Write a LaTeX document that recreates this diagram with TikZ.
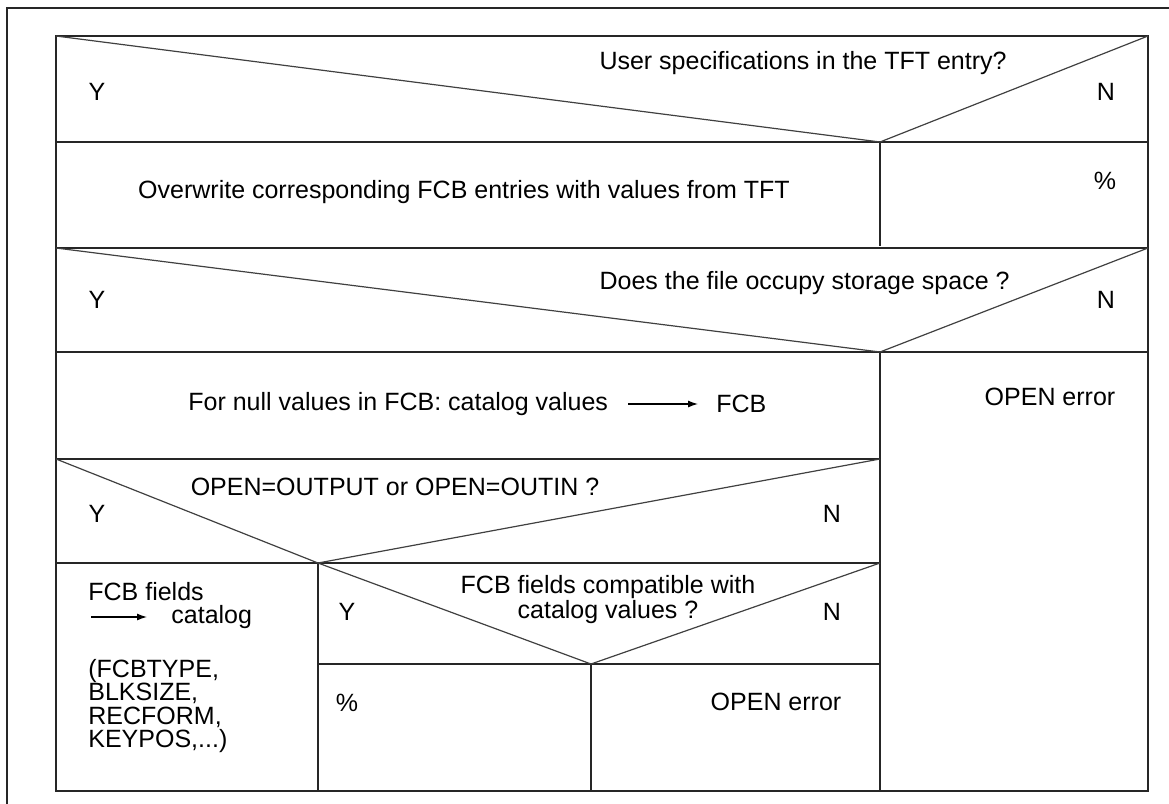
\documentclass[tikz,border=0pt]{standalone}
\usepackage{fontspec}
\setmainfont{Liberation Sans}
\usetikzlibrary{arrows.meta}
\tikzset{
    frame/.style={draw=black!85, line width=1.2pt},
    diag/.style={draw=black!75, line width=0.6pt},
    txt/.style={inner sep=0pt, font=\fontsize{12.5}{12.5}\selectfont},
    txtarrow/.style={-{Latex[length=5pt,width=3.5pt]}, line width=0.6pt}
}
\begin{document}
\begin{tikzpicture}[x=0.5pt,y=-0.5pt]
            \useasboundingbox (0,0) rectangle (1169,804);
            \draw[frame] (7,830) -- (7,8) -- (1190,8);
            \coordinate (tl) at (56,36);
            \coordinate (tr) at (1148,36);
            \coordinate (bl) at (56,791);
            \coordinate (br) at (1148,791);
            \coordinate (q1tip) at (880,142);
            \coordinate (q2tip) at (880,352);
            \coordinate (q3tip) at (318,563);
            \coordinate (q4tip) at (591,664);
            \draw[frame] (tl) rectangle (br);
            \draw[frame] (56,142) -- (1148,142);
            \draw[frame] (56,248) -- (1148,248);
            \draw[frame] (56,352) -- (1148,352);
            \draw[frame] (56,459) -- (880,459);
            \draw[frame] (56,563) -- (880,563);
            \draw[frame] (318,664) -- (880,664);
            \draw[frame] (q1tip) -- (880,246);
            \draw[frame] (q2tip) -- (880,791);
            \draw[frame] (q3tip) -- (318,791);
            \draw[frame] (q4tip) -- (591,791);
            \draw[diag] (tl) -- (q1tip) -- (tr);
            \draw[diag] (56,248) -- (q2tip) -- (1148,248);
            \draw[diag] (56,459) -- (q3tip) -- (880,459);
            \draw[diag] (q3tip) -- (q4tip) -- (880,563);
            \node[txt, anchor=east] (q1) at (1007,63) {User specifications in the TFT entry?};
            \node[txt] (q1y) at (97,92) {Y};
            \node[txt] (q1n) at (1106,92) {N};
            \node[txt] (overwrite) at (464,192) {Overwrite corresponding FCB entries with values from TFT};
            \node[txt] (pct1) at (1105,181) {\%};
            \node[txt, anchor=east] (q2) at (1010,283) {Does the file occupy storage space ?};
            \node[txt] (q2y) at (97,300) {Y};
            \node[txt] (q2n) at (1106,300) {N};
            \node[txt, anchor=west] (nullvals) at (188,404) {For null values in FCB: catalog values};
            \node[txt, anchor=west] (nullfcb) at (716,404) {FCB};
            \draw[txtarrow] ([xshift=10pt]nullvals.east) -- ([xshift=-9pt]nullfcb.west);
            \node[txt] (err1) at (1050,397) {OPEN error};
            \node[txt] (q3) at (395,487) {OPEN=OUTPUT or OPEN=OUTIN ?};
            \node[txt] (q3y) at (97,514) {Y};
            \node[txt] (q3n) at (832,514) {N};
            \node[txt, anchor=west] (fields) at (88,592) {FCB fields};
            \node[txt, anchor=west] (catalog) at (171,617) {catalog};
            \coordinate (arrstart) at (91,617);
            \draw[txtarrow] (arrstart) -- ([xshift=-12pt]catalog.west);
            \node[txt, anchor=north west, align=left, font=\fontsize{12.5}{11.7}\selectfont] (fieldlist) at (88,659) {(FCBTYPE,\\BLKSIZE,\\RECFORM,\\KEYPOS,...)};
            \node[txt, align=center] (q4) at (608,600) {FCB fields compatible with\\catalog values ?};
            \node[txt] (q4y) at (347,612) {Y};
            \node[txt] (q4n) at (832,612) {N};
            \node[txt] (pct2) at (347,703) {\%};
            \node[txt] (err2) at (776,702) {OPEN error};
\end{tikzpicture}
\end{document}
